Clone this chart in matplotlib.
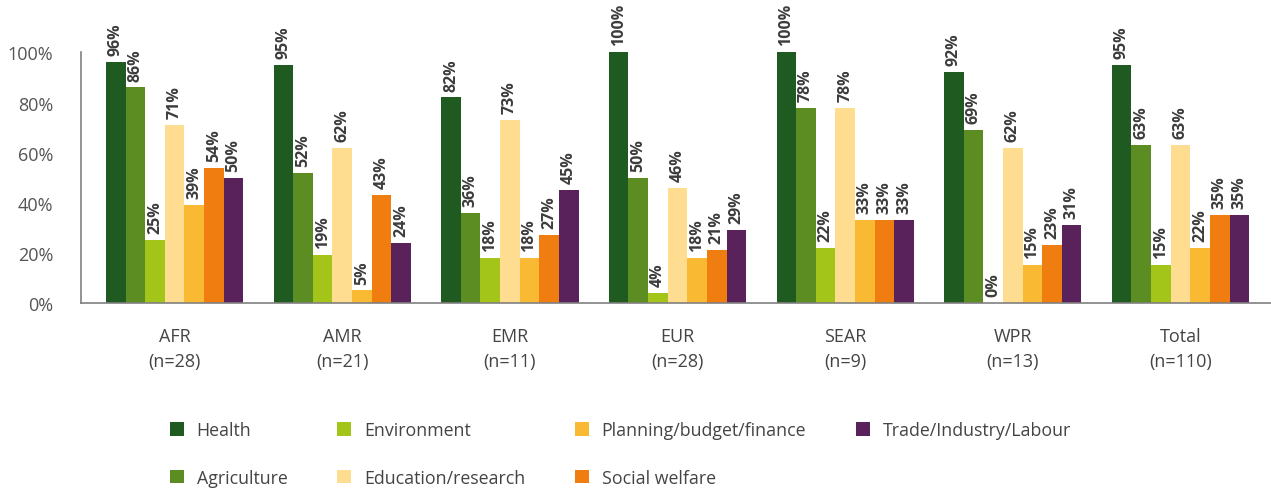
import numpy as np
import matplotlib
matplotlib.use('Agg')
import matplotlib.pyplot as plt

regions = ["AFR", "AMR", "EMR", "EUR", "SEAR", "WPR", "Total"]
counts = [28, 21, 11, 28, 9, 13, 110]

series = ["Health", "Agriculture", "Environment", "Education/research",
          "Planning/budget/finance", "Social welfare", "Trade/Industry/Labour"]
health = [96, 95, 82, 100, 100, 92, 95]
agriculture = [86, 52, 36, 50, 78, 69, 63]
environment = [25, 19, 18, 4, 22, 0, 15]
education = [71, 62, 73, 46, 78, 62, 63]
planning = [39, 5, 18, 18, 33, 15, 22]
social = [54, 43, 27, 21, 33, 23, 35]
trade = [50, 24, 45, 29, 33, 31, 35]

colors = ["#1f5b20", "#5c8d22", "#a3c51a", "#fedc90", "#f9b933", "#ef7d0f", "#59225b"]

plt.rcParams['font.family'] = ['Open Sans', 'DejaVu Sans']

fig = plt.figure(figsize=(12.71, 4.89), dpi=100)
ax = fig.add_axes([81 / 1271, 1 - 304 / 489, 1 - 81 / 1271, 304 / 489])

all_vals = [health, agriculture, environment, education, planning, social, trade]
x = np.arange(len(regions))
w = 0.117
for i, (name, vals, c) in enumerate(zip(series, all_vals, colors)):
    xs = x + (i - 3) * w
    ax.bar(xs, vals, width=w, color=c, label=name, linewidth=0)
    for xi, v in zip(xs, vals):
        ax.annotate(f"{v}%", (xi, v), xytext=(0, 5), textcoords="offset points",
                    rotation=90, ha="center", va="bottom", fontsize=11.5,
                    fontweight="bold", color="#3c3c3c")

ax.set_xlim(-0.558, 6.54)
ax.set_ylim(0, 121.3)
ax.set_yticks([0, 20, 40, 60, 80, 100])
ax.set_yticklabels([f"{t}%" for t in [0, 20, 40, 60, 80, 100]])
ax.set_xticks(x)
ax.set_xticklabels([f"{r}\n(n={n})" for r, n in zip(regions, counts)], linespacing=1.5)
ax.tick_params(axis="y", length=0, pad=20, labelsize=13, labelcolor="#555555")
ax.tick_params(axis="x", length=0, pad=17, labelsize=13, labelcolor="#444444")

for s in ["top", "right"]:
    ax.spines[s].set_visible(False)
ax.spines["left"].set_bounds(0, 100)
for s in ["left", "bottom"]:
    ax.spines[s].set_color("#808080")
    ax.spines[s].set_linewidth(1.2)

fig.legend(loc="upper left", bbox_to_anchor=(170 / 1271, 1 - 422 / 489), ncol=4,
           frameon=False, fontsize=12.8, labelcolor="#444444",
           handlelength=0.8, handleheight=0.8, handletextpad=0.7,
           labelspacing=1.68, columnspacing=2.8, borderaxespad=0, borderpad=0)

fig.savefig("out.png", dpi=100)
